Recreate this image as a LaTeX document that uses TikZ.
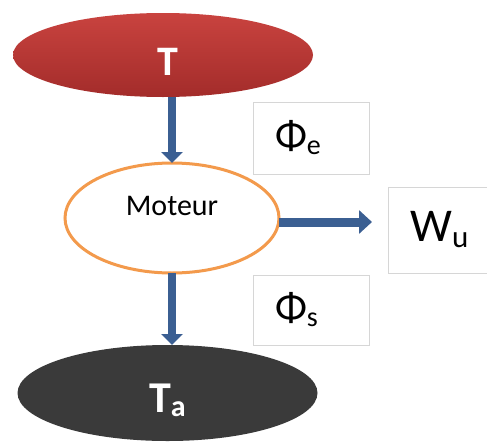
\documentclass[tikz,border=0pt]{standalone}
\usepackage{fontspec}
\setmainfont{Carlito}
\usetikzlibrary{shapes.geometric,arrows.meta}
\definecolor{arrblue}{HTML}{3B5F92}
\definecolor{motorange}{HTML}{F39A4C}
\definecolor{redtop}{HTML}{C9433F}
\definecolor{redbot}{HTML}{A32C2A}
\definecolor{darkell}{HTML}{3A3A3A}
\definecolor{boxline}{HTML}{D6D6D6}
\newcommand\mysub[2]{#1\raisebox{-5pt}{\fontsize{28}{28}\selectfont #2}}
\newcommand\mybigsub[2]{#1\raisebox{-6pt}{\fontsize{31}{31}\selectfont #2}}
\tikzset{
  ell/.style={ellipse, inner sep=0pt, outer sep=0pt},
  arr/.style={draw=arrblue, line width=8pt, -{Triangle[width=21pt,length=11pt]}},
  lbox/.style={draw=boxline, line width=0.8pt, fill=white, inner xsep=22pt, inner ysep=0pt,
    align=left, font=\fontsize{42}{50}\selectfont}
}
\begin{document}
\begin{tikzpicture}[x=1pt,y=-1pt]
\clip (0,0) rectangle (487,442);
\fill[white] (0,0) rectangle (487,442);
% ellipses
\node[ell, top color=redtop, bottom color=redbot, minimum width=300pt, minimum height=84pt,
  text=white, font=\fontsize{42}{42}\selectfont\bfseries, text height=41pt, text depth=0pt]
  (T) at (163,55) {\hspace*{10pt}T};
\node[ell, draw=motorange, line width=3pt, fill=white, minimum width=214pt, minimum height=110pt,
  font=\fontsize{30}{30}\selectfont, text height=19pt, text depth=24pt]
  (M) at (172,218) {Moteur};
\node[ell, fill=darkell, minimum width=300pt, minimum height=96pt,
  text=white, font=\fontsize{44}{44}\selectfont\bfseries, text height=38pt, text depth=0pt]
  (Ta) at (167.5,393) {T\raisebox{-4pt}{\fontsize{30}{30}\selectfont a}};
% label boxes
\node[lbox, text width=72pt, minimum height=72pt] (Pe) at (311,138) {\mysub{Φ}{e}};
\node[lbox, text width=72pt, minimum height=70pt] (Ps) at (311,310) {\mysub{Φ}{s}};
\node[lbox, text width=120pt, minimum height=86pt, anchor=west, font=\fontsize{47}{50}\selectfont]
  (Wu) at (388,230) {\mybigsub{W}{u}};
% arrows
\coordinate (wtip) at (372,222);
\draw[arr] (M.north |- T.south) -- (M.north);
\draw[arr] (M.south) -- (M.south |- Ta.north);
\draw[arr, line width=9pt, -{Triangle[width=23pt,length=13pt]}] (M.east |- wtip) -- (wtip);
\end{tikzpicture}
\end{document}
